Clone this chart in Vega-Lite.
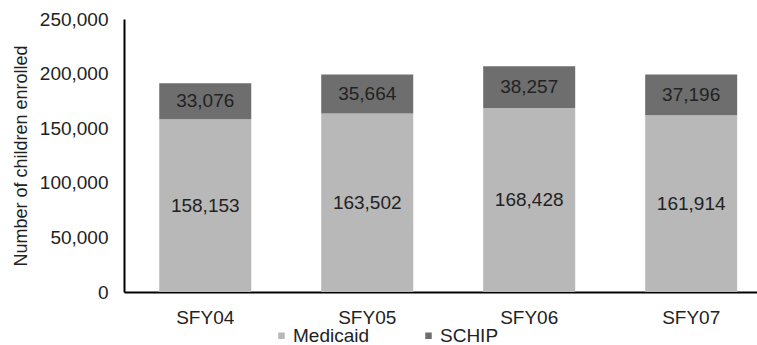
{
  "$schema": "https://vega.github.io/schema/vega-lite/v6.json",
  "width": 633,
  "height": 273,
  "autosize": {"type": "none"},
  "padding": {"left": 124, "top": 19, "right": 0, "bottom": 53},
  "background": "white",
  "config": {
    "font": "Liberation Sans",
    "view": {"stroke": null},
    "axis": {
      "labelFontSize": 19,
      "labelColor": "#222222",
      "labelFont": "Liberation Sans",
      "titleFont": "Liberation Sans",
      "titleFontSize": 18,
      "titleFontWeight": "normal",
      "titleColor": "#222222",
      "domainColor": "#000000",
      "domainWidth": 2,
      "ticks": false,
      "grid": false
    }
  },
  "data": {
    "values": [
      {"year": "SFY04", "program": "Medicaid", "enrolled": 158153},
      {"year": "SFY04", "program": "SCHIP", "enrolled": 33076},
      {"year": "SFY05", "program": "Medicaid", "enrolled": 163502},
      {"year": "SFY05", "program": "SCHIP", "enrolled": 35664},
      {"year": "SFY06", "program": "Medicaid", "enrolled": 168428},
      {"year": "SFY06", "program": "SCHIP", "enrolled": 38257},
      {"year": "SFY07", "program": "Medicaid", "enrolled": 161914},
      {"year": "SFY07", "program": "SCHIP", "enrolled": 37196}
    ]
  },
  "transform": [
    {
      "stack": "enrolled",
      "groupby": ["year"],
      "sort": [{"field": "program", "order": "ascending"}],
      "as": ["lo", "hi"]
    },
    {"calculate": "(datum.lo + datum.hi) / 2", "as": "mid"}
  ],
  "encoding": {
    "x": {
      "field": "year",
      "type": "nominal",
      "scale": {"paddingInner": 0.432, "paddingOuter": 0.17, "align": 0.64},
      "axis": {"title": null, "labelAngle": 0, "labelPadding": 16}
    }
  },
  "layer": [
    {
      "mark": {"type": "bar"},
      "encoding": {
        "y": {
          "field": "lo",
          "type": "quantitative",
          "scale": {"domain": [0, 250000]},
          "axis": {
            "title": "Number of children enrolled",
            "values": [0, 50000, 100000, 150000, 200000, 250000],
            "labelExpr": "format(datum.value, ',')",
            "labelPadding": 16,
            "titlePadding": 9
          }
        },
        "y2": {"field": "hi"},
        "color": {
          "field": "program",
          "type": "nominal",
          "scale": {"domain": ["Medicaid", "SCHIP"], "range": ["#b8b8b8", "#6e6e6e"]},
          "legend": {
            "title": null,
            "orient": "none",
            "direction": "horizontal",
            "legendX": 148,
            "legendY": 307,
            "symbolType": "square",
            "symbolSize": 42,
            "symbolStrokeWidth": 0,
            "labelFontSize": 19,
            "labelColor": "#222222",
            "labelOffset": 2,
            "columnPadding": 49
          }
        }
      }
    },
    {
      "mark": {"type": "text", "fontSize": 19, "color": "#222222", "baseline": "middle"},
      "encoding": {
        "y": {
          "field": "mid",
          "type": "quantitative",
          "scale": {"domain": [0, 250000]},
          "axis": {
            "title": "Number of children enrolled",
            "values": [0, 50000, 100000, 150000, 200000, 250000],
            "labelExpr": "format(datum.value, ',')",
            "labelPadding": 16,
            "titlePadding": 9
          }
        },
        "text": {"field": "enrolled", "type": "quantitative", "format": ","}
      }
    }
  ]
}
